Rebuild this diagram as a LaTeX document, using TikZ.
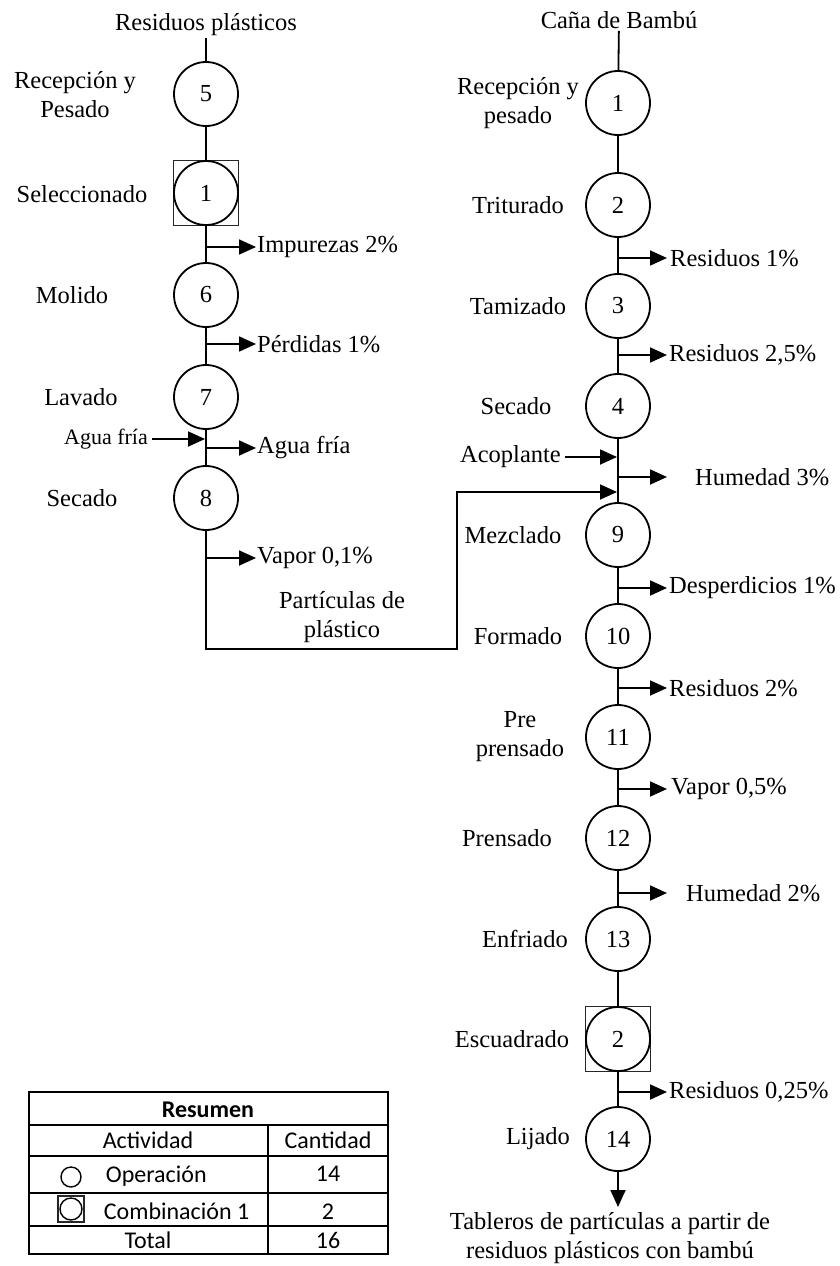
\documentclass[tikz,border=0pt]{standalone}
\usepackage{fontspec}
\setmainfont{Liberation Serif}
\newfontfamily\tabfont{Carlito}
\usetikzlibrary{arrows.meta,positioning}

\tikzset{
  op/.style={circle, draw, line width=1.8pt, minimum size=64pt, inner sep=0pt, fill=white},
  sqbox/.style={draw=black!85, line width=1.1pt, minimum size=65pt, inner sep=0pt},
  lbl/.style={align=center, inner sep=2pt},
  flow/.style={line width=1.8pt},
  arr/.style={flow, -{Triangle[length=17pt,width=15pt]}},
  small/.style={font=\fontsize{22}{26}\selectfont}
}

\begin{document}
\begin{tikzpicture}[x=1pt, y=-1pt, font=\fontsize{24.5}{29}\selectfont]
\useasboundingbox (0,0) rectangle (840,1266);

% Plastic line
\node[lbl] (srcA) at (206,25) {Residuos plásticos};
\node[op] (a5) at (206,94) {5};
\node[sqbox] (sqA) at (206,193) {};
\node[op] (a1) at (206,193) {1};
\foreach \nm/\num/\y in {a6/6/295, a7/7/397, a8/8/498}
  \node[op] (\nm) at (206,\y) {\num};
\node[lbl] (la5) at (75,95) {Recepción y\\Pesado};
\node[lbl] (la1) at (82,194) {Seleccionado};
\node[lbl] (la6) at (72,295) {Molido};
\node[lbl] (la7) at (81,397) {Lavado};
\node[lbl] (la8) at (82,498) {Secado};
\draw[flow] (srcA) -- (a5) -- (a1) -- (a6) -- (a7) -- (a8);

% outputs, plastic line
\foreach \y/\txt in {247/{Impurezas 2\%}, 344/{Pérdidas 1\%}, 448/{Agua fría}, 558/{Vapor 0,1\%}} {
  \coordinate (ls\y) at (206,\y);
  \coordinate (lt\y) at (256,\y);
  \draw[arr] (ls\y) -- (lt\y);
  \node[anchor=west, inner sep=1pt] (ll\y) at (lt\y) {\txt};
}
\node[small, anchor=east, inner sep=4pt] (agua) at (152,439) {Agua fría};
\coordinate (aguain) at (205,439);
\draw[arr] (agua) -- (aguain);

% Bamboo line
\node[lbl] (srcB) at (619,20) {Caña de Bambú};
\foreach \nm/\num/\y/\lx/\txt in {
    b1/1/103/518/{Recepción y\\pesado},
    b2/2/205/518/Triturado,
    b3/3/306/518/Tamizado,
    b4/4/406/516/Secado,
    b9/9/535/513/Mezclado,
    b10/10/636/518/Formado,
    b11/11/737/520/{Pre\\prensado},
    b12/12/838/507/Prensado,
    b13/13/939/525/Enfriado,
    b14/14/1139/538/Lijado} {
  \node[op] (\nm) at (618,\y) {\num};
  \node[lbl] (l\nm) at (\lx,\y) {\txt};
}
\node[sqbox] (sqB) at (618,1039) {};
\node[op] (bc2) at (618,1039) {2};
\node[lbl] (lbc2) at (512,1039) {Escuadrado};
\draw[flow] (srcB) -- (b1) -- (b2) -- (b3) -- (b4) -- (b9) -- (b10) -- (b11)
  -- (b12) -- (b13) -- (bc2) -- (b14);

% outputs, bamboo line
\foreach \y/\gap/\txt in {258/2/{Residuos 1\%}, 355/1/{Residuos 2,5\%}, 477/27/{Humedad 3\%},
    588/1/{Desperdicios 1\%}, 688/1/{Residuos 2\%}, 789/3/{Vapor 0,5\%},
    893/18/{Humedad 2\%}, 1092/1/{Residuos 0,25\%}} {
  \coordinate (rs\y) at (618,\y);
  \coordinate (rt\y) at (667,\y);
  \draw[arr] (rs\y) -- (rt\y);
  \node[anchor=west, inner sep=1pt, xshift=\gap pt] (rl\y) at (rt\y) {\txt};
}
\node[anchor=east, inner sep=4pt] (acop) at (565,457) {Acoplante};
\coordinate (acopin) at (617,457);
\draw[arr] (acop) -- (acopin);

% plastic particles into the mixer
\coordinate (bend) at (457,649);
\coordinate (mixin) at (617,492);
\draw[arr] (a8) |- (bend) |- (mixin);
\node[lbl] (part) at (342,617) {Partículas de\\plástico};

% product
\coordinate (fin) at (618,1207);
\draw[arr] (b14) -- (fin);
\node[lbl] (prod) at (610,1238) {Tableros de partículas a partir de\\residuos plásticos con bambú};

% Summary table
\begin{scope}[font=\tabfont\fontsize{24}{26}\selectfont, line width=1.8pt]
\draw (29,1092) rectangle (388,1254);
\foreach \y in {1125,1156,1193,1226}
  \draw (29,\y) -- (388,\y);
\draw (268,1125) -- (268,1254);
\node[anchor=base] (tres) at (208,1117) {\bfseries Resumen};
\node[anchor=base] (tact) at (148,1148) {Actividad};
\node[anchor=base] (tcan) at (328,1148) {Cantidad};
\node[anchor=base west, inner sep=0pt] (top) at (105,1182) {Operación};
\node[anchor=base] (tn1) at (328,1181) {14};
\node[anchor=base west, inner sep=0pt] (tcom) at (103,1219) {Combinación 1};
\node[anchor=base] (tn2) at (328,1219) {2};
\node[anchor=base] (ttot) at (148,1248) {Total};
\node[anchor=base] (tn3) at (328,1248) {16};
\draw[line width=1.4pt, fill=white] (71,1177) circle (10);
\draw[line width=2pt, draw=black!85] (58,1196) rectangle (84,1222);
\draw[line width=1.4pt, fill=white] (71,1209) circle (11);
\end{scope}
\end{tikzpicture}
\end{document}
